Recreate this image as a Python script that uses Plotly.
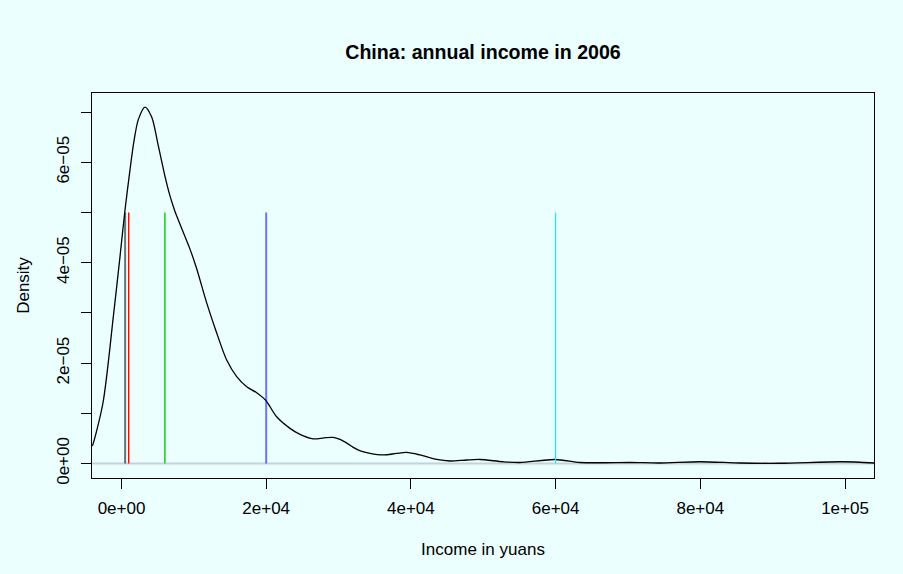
import plotly.graph_objects as go

# Density curve (income in yuans, density)
income = [-4077, -3980, -2557, -1133, -207, 484, 1175, 1700, 2322, 3248, 4174, 5086,
          6012, 6703, 7394, 7850, 9467, 10393, 11775, 13157, 14539, 15921, 17303,
          18685, 19928, 21449, 23287, 24669, 26507, 28000, 29271, 30197, 31200, 32035,
          33000, 34343, 36181, 38000, 39415, 41253, 43561, 45400, 47707, 49545, 52723,
          55073, 59910, 63367, 66800, 70275, 74400, 79947, 85500, 91000, 99570, 104008]
density_e5 = [0.35, 0.37, 1.21, 2.92, 4.12, 5.05, 5.85, 6.40, 6.85, 7.10, 6.90, 6.33,
              5.72, 5.33, 5.02, 4.85, 4.27, 3.88, 3.20, 2.60, 2.06, 1.73, 1.53,
              1.41, 1.26, 0.93, 0.70, 0.58, 0.49, 0.51, 0.52, 0.48, 0.40, 0.32,
              0.25, 0.20, 0.17, 0.20, 0.22, 0.17, 0.08, 0.05, 0.07, 0.08, 0.035,
              0.02, 0.08, 0.02, 0.015, 0.02, 0.01, 0.035, 0.01, 0.005, 0.035, 0.01]

# Vertical reference lines (income levels) and their colours
ref_levels = [500, 1000, 6000, 20000, 60000]
ref_colors = ["rgba(0,0,0,0.55)", "#FF0000", "#00CD00", "rgba(0,0,255,0.55)", "#22E8F0"]
ref_widths = [2, 1.4, 1.4, 2, 1.2]
ref_height = 5e-05

x_ticks = [0, 20000, 40000, 60000, 80000, 100000]
x_ticklabels = ["0e+00", "2e+04", "4e+04", "6e+04", "8e+04", "1e+05"]
y_ticks = [0, 1e-05, 2e-05, 3e-05, 4e-05, 5e-05, 6e-05, 7e-05]
y_ticklabels = ["0e+00", "", "2e\u221205", "", "4e\u221205", "", "6e\u221205", ""]

density = [d * 1e-05 for d in density_e5]

BG = "#EBFFFF"
FONT = "Liberation Sans, Arial, sans-serif"

fig = go.Figure()

# zero line
fig.add_trace(go.Scatter(x=[-4077, 104008], y=[0, 0], mode="lines",
                         line=dict(color="#C3D3DE", width=2), showlegend=False,
                         hoverinfo="skip"))

fig.add_trace(go.Scatter(x=income, y=density, mode="lines",
                         line=dict(color="black", width=1.3, shape="spline", smoothing=0.8),
                         showlegend=False, name="density"))

for lvl, col, w in zip(ref_levels, ref_colors, ref_widths):
    fig.add_trace(go.Scatter(x=[lvl, lvl], y=[0, ref_height], mode="lines",
                             line=dict(color=col, width=w), showlegend=False,
                             name=str(lvl)))

fig.update_layout(
    width=903, height=574,
    margin=dict(l=92, r=29, t=93, b=96),
    paper_bgcolor=BG, plot_bgcolor=BG,
    font=dict(family=FONT, size=17, color="black"),
    title=dict(text="<b>China: annual income in 2006</b>", x=0.5, xref="paper",
               y=1 - 52 / 574, yref="container", yanchor="middle",
               xanchor="center", font=dict(size=19.6, family=FONT)),
    xaxis=dict(range=[-4077, 104008], tickvals=x_ticks, ticktext=x_ticklabels,
               showgrid=False, zeroline=False, showline=True, mirror=True,
               linecolor="black", linewidth=1, ticks="outside", ticklen=10,
               tickcolor="black", ticklabelstandoff=5,
               title=dict(text="Income in yuans", standoff=25,
                          font=dict(size=17))),
    yaxis=dict(range=[-2.89e-06, 7.38e-05], tickvals=y_ticks, ticktext=y_ticklabels,
               showgrid=False, zeroline=False, showline=True, mirror=True,
               linecolor="black", linewidth=1, ticks="outside", ticklen=10,
               tickcolor="black", tickangle=-90, ticklabelstandoff=5,
               title=dict(text="Density", standoff=20, font=dict(size=17))),
)

fig.write_html("out.html")
